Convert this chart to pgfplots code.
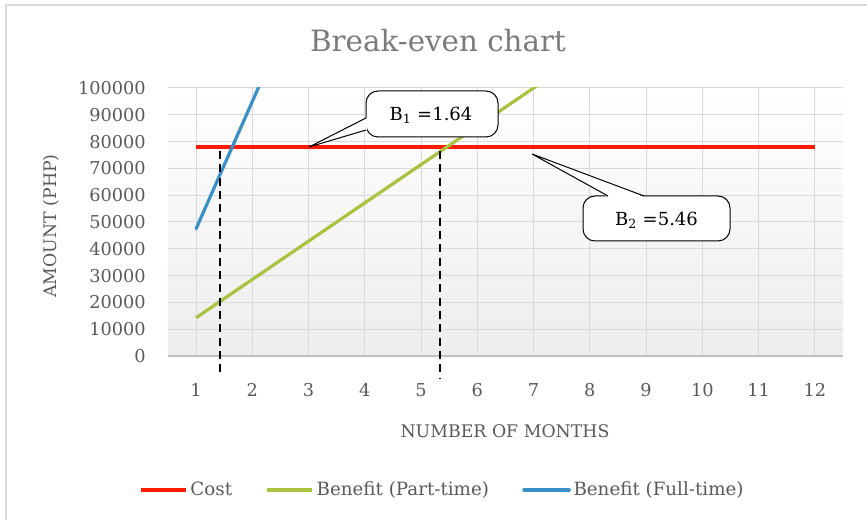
\documentclass[border=0pt]{standalone}
\usepackage{fontspec}
\setmainfont{DejaVu Serif}
\usepackage{pgfplots}
\pgfplotsset{compat=1.18}
\definecolor{costred}{HTML}{FF1A00}
\definecolor{ptgreen}{HTML}{A9C23F}
\definecolor{ftblue}{HTML}{3B8FC7}
\definecolor{txtgray}{HTML}{595959}
\definecolor{titlegray}{HTML}{7A7A7A}
\definecolor{gridgray}{HTML}{D9D9D9}
\definecolor{axisgray}{HTML}{BFBFBF}
\begin{document}
\begin{tikzpicture}[x=0.75pt,y=0.75pt]
\useasboundingbox (-168,-164) rectangle (699,356);
\draw[gridgray, line width=1.5pt] (-162,-180) -- (-162,351) -- (720,351);
\begin{axis}[
  at={(0,0)}, anchor=south west,
  scale only axis, width=506.25pt, height=201pt,
  xmin=0.5, xmax=12.5, ymin=0, ymax=100000,
  xtick={1,...,12}, ytick={0,10000,...,100000},
  axis x line*=bottom, axis y line*=left,
  x axis line style={-, draw=axisgray, line width=0.9pt},
  y axis line style={draw=none},
  tick style={draw=none},
  grid=major, major grid style={gridgray, line width=0.75pt},
  axis background/.style={top color=white, bottom color=black!7},
  ticklabel style={font=\fontsize{13.3}{15}\selectfont, text=txtgray},
  yticklabel style={anchor=east, inner sep=0pt, xshift=-16.5pt},
  xticklabel style={anchor=center, inner sep=0pt, yshift=-25.5pt},
  /pgf/number format/fixed,
  /pgf/number format/assume math mode=true,
  /pgf/number format/set thousands separator={},
  scaled y ticks=false,
  clip mode=individual,
  legend columns=3,
  legend style={at={(-0.043,-0.5)}, anchor=west, draw=none, fill=none,
    inner sep=0pt, font=\fontsize{13.7}{15}\selectfont, text=txtgray,
    nodes={inner sep=0pt},
    /tikz/every odd column/.append style={column sep=2pt},
    /tikz/every even column/.append style={column sep=25pt}},
  legend image code/.code={\draw[#1] (0pt,0pt) -- (34pt,0pt);},
]
\addplot[costred, line width=2.4pt] coordinates {
  (1,78000) (2,78000) (3,78000) (4,78000) (5,78000) (6,78000)
  (7,78000) (8,78000) (9,78000) (10,78000) (11,78000) (12,78000)};
\addlegendentry{Cost}
\addplot[ptgreen, line width=2.4pt] coordinates {
  (1,14286) (2,28571) (3,42857) (4,57143) (5,71429) (6,85714)
  (7,100000) (8,114286) (9,128571) (10,142857) (11,157143) (12,171429)};
\addlegendentry{Benefit (Part-time)}
\addplot[ftblue, line width=2.4pt, line cap=round] coordinates {
  (1,47500) (2,95000) (3,142500) (4,190000) (5,237500) (6,285000)
  (7,332500) (8,380000) (9,427500) (10,475000) (11,522500) (12,570000)};
\addlegendentry{Benefit (Full-time)}
\addplot[black, line width=1.4pt, dash pattern=on 6pt off 4pt, clip=false, forget plot]
  coordinates {(1.43,76500) (1.43,-7100)};
\addplot[black, line width=1.4pt, dash pattern=on 6pt off 4pt, clip=false, forget plot]
  coordinates {(5.33,76500) (5.33,-8200)};
\end{axis}
% title and axis labels
\node[text=titlegray, font=\fontsize{22}{24}\selectfont] at (270,315) {Break-even chart};
\node[text=txtgray, font=\fontsize{13}{15}\selectfont, rotate=90] at (-117,130) {AMOUNT (PHP)};
\node[text=txtgray, font=\fontsize{13}{15}\selectfont] at (337,-75) {NUMBER OF MONTHS};
% callout B1
\filldraw[fill=white, draw=black, line width=0.75pt, rounded corners=9] (198,219) rectangle (330,265);
\fill[white] (198.9,238) -- (141,209) -- (198.9,226) -- cycle;
\draw[line width=0.75pt, line join=miter] (198,238) -- (141,209) -- (198,226);
\node[font=\fontsize{13.5}{15}\selectfont] at (263,241) {B\textsubscript{1} =1.64};
% callout B2
\filldraw[fill=white, draw=black, line width=0.75pt, rounded corners=9] (415,115) rectangle (562,160);
\fill[white] (440,159.1) -- (364,202) -- (476,159.1) -- cycle;
\draw[line width=0.75pt, line join=miter] (440,160) -- (364,202) -- (476,160);
\node[font=\fontsize{13.5}{15}\selectfont] at (488.5,136) {B\textsubscript{2} =5.46};
\end{tikzpicture}
\end{document}
